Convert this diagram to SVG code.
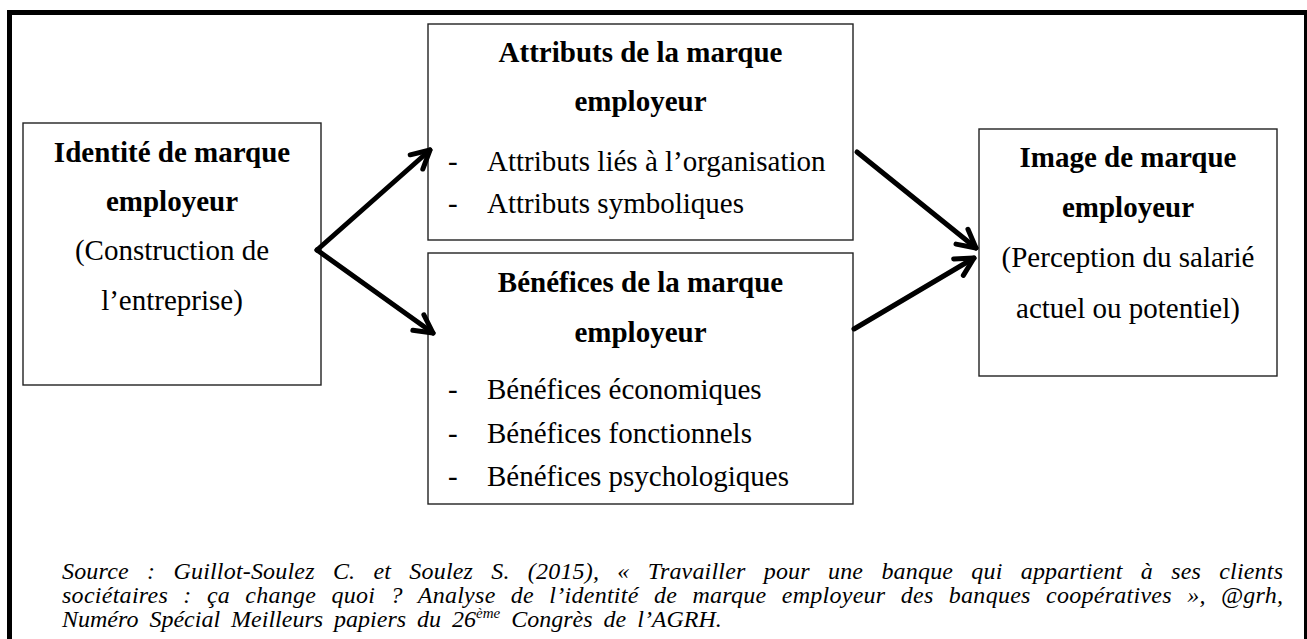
<svg xmlns="http://www.w3.org/2000/svg" width="1307" height="639" viewBox="0 0 1307 639">
<style>
.box{fill:#fff;stroke:#222;stroke-width:1.4}
.t{font-family:"Liberation Serif","Times New Roman",serif;font-size:29px;fill:#000}
.b{font-weight:bold}
.c{text-anchor:middle}
.src{font-family:"Liberation Serif","Times New Roman",serif;font-size:24px;font-style:italic;fill:#000}
.arr{fill:none;stroke:#000;stroke-width:5;stroke-linecap:round;marker-end:url(#chev)}
</style>
<defs>
<marker id="chev" markerUnits="userSpaceOnUse" viewBox="-24 -14 28 28" refX="0" refY="0" markerWidth="28" markerHeight="28" orient="auto" overflow="visible">
<path d="M-18,-9.5 L0,0 L-18,9.5" fill="none" stroke="#000" stroke-width="5" stroke-linecap="round" stroke-linejoin="round"/>
</marker>
</defs>
<rect x="0" y="0" width="1307" height="639" fill="#fff"/>
<rect x="9.5" y="12.5" width="1297" height="660" fill="none" stroke="#000" stroke-width="5"/>

<g id="identite">
<rect class="box" x="23" y="123" width="298" height="262"/>
<text class="t b c" x="172" y="162">Identité de marque</text>
<text class="t b c" x="172" y="211">employeur</text>
<text class="t c" x="172" y="260">(Construction de</text>
<text class="t c" x="172" y="310">l’entreprise)</text>
</g>

<g id="attributs">
<rect class="box" x="428" y="24" width="425" height="216"/>
<text class="t b c" x="640.5" y="62">Attributs de la marque</text>
<text class="t b c" x="640.5" y="111">employeur</text>
<text class="t" x="448" y="171">-</text>
<text class="t" x="487" y="171">Attributs liés à l’organisation</text>
<text class="t" x="448" y="213">-</text>
<text class="t" x="487" y="213">Attributs symboliques</text>
</g>

<g id="benefices">
<rect class="box" x="428" y="253" width="425" height="251"/>
<text class="t b c" x="640.5" y="292">Bénéfices de la marque</text>
<text class="t b c" x="640.5" y="342">employeur</text>
<text class="t" x="448" y="399">-</text>
<text class="t" x="487" y="399">Bénéfices économiques</text>
<text class="t" x="448" y="443">-</text>
<text class="t" x="487" y="443">Bénéfices fonctionnels</text>
<text class="t" x="448" y="486">-</text>
<text class="t" x="487" y="486">Bénéfices psychologiques</text>
</g>

<g id="image">
<rect class="box" x="979" y="129" width="298" height="247"/>
<text class="t b c" x="1128" y="167">Image de marque</text>
<text class="t b c" x="1128" y="217">employeur</text>
<text class="t c" x="1128" y="267">(Perception du salarié</text>
<text class="t c" x="1128" y="318">actuel ou potentiel)</text>
</g>

<g id="connectors">
<path class="arr" d="M317,250 L430,150"/>
<path class="arr" d="M317,250 L433,333"/>
<path class="arr" d="M857,152 L976,248"/>
<path class="arr" d="M854,329 L974,258"/>
</g>

<g id="source">
<text class="src" x="62" y="579" word-spacing="12" textLength="1221" lengthAdjust="spacing">Source : Guillot-Soulez C. et Soulez S. (2015), « Travailler pour une banque qui appartient à ses clients</text>
<text class="src" x="62" y="603" word-spacing="9" textLength="1221" lengthAdjust="spacing">sociétaires : ça change quoi ? Analyse de l’identité de marque employeur des banques coopératives », @grh,</text>
<text class="src" x="62" y="627" word-spacing="5">Numéro Spécial Meilleurs papiers du 26<tspan font-size="15" dy="-9">ème</tspan><tspan dy="9"> Congrès de l’AGRH.</tspan></text>
</g>
</svg>
